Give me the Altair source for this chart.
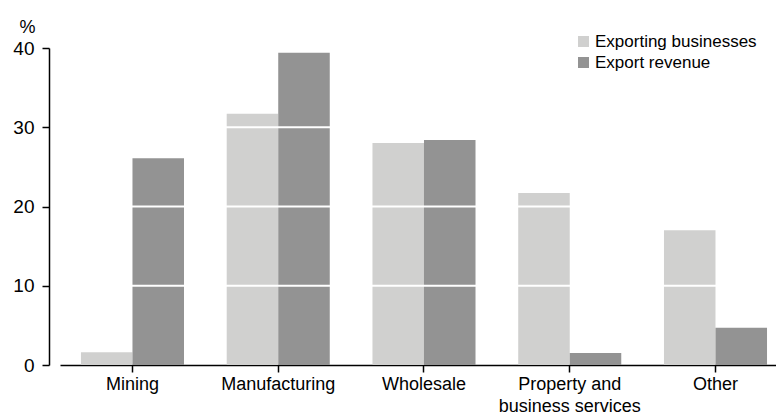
import altair as alt
import pandas as pd

categories = ["Mining", "Manufacturing", "Wholesale", "Property and business services", "Other"]
series = ["Exporting businesses", "Export revenue"]
exporting_businesses = [1.6, 31.7, 28.0, 21.7, 17.0]
export_revenue = [26.1, 39.4, 28.4, 1.5, 4.7]
y_ticks = [0, 10, 20, 30, 40]
grid_values = [10, 20, 30]
colors = ["#d0d0cf", "#939393"]

rows = []
for c, a, b in zip(categories, exporting_businesses, export_revenue):
    rows.append({"category": c, "series": series[0], "value": a})
    rows.append({"category": c, "series": series[1], "value": b})
df = pd.DataFrame(rows)
grid_df = pd.DataFrame({"y": grid_values})

FONT = "Liberation Sans"

y_scale = alt.Scale(domain=[0, 40], nice=False)

bars = alt.Chart(df).mark_bar().encode(
    x=alt.X(
        "category:N",
        sort=categories,
        scale=alt.Scale(paddingInner=0.293, paddingOuter=0.1027, align=0.7),
        axis=alt.Axis(
            title=None,
            labelAngle=0,
            labelExpr="datum.label == 'Property and business services' ? ['Property and', 'business services'] : datum.label",
            labelFontSize=18,
            labelFont=FONT,
            labelColor="#000000",
            labelLineHeight=22,
            labelPadding=3,
            labelLimit=400,
            tickSize=7,
            tickColor="#000000",
            tickWidth=1.5,
            domainColor="#000000",
            domainWidth=1.5,
            grid=False,
        ),
    ),
    xOffset=alt.XOffset("series:N", sort=series, scale=alt.Scale(paddingInner=0, paddingOuter=0)),
    y=alt.Y(
        "value:Q",
        scale=y_scale,
        axis=alt.Axis(
            values=y_ticks,
            offset=11,
            tickSize=7,
            tickColor="#000000",
            tickWidth=1.5,
            domainColor="#000000",
            domainWidth=1.5,
            grid=False,
            labelFontSize=19,
            labelFont=FONT,
            labelColor="#000000",
            labelPadding=8,
            title="%",
            titleAngle=0,
            titleFont=FONT,
            titleFontSize=18,
            titleFontWeight="normal",
            titleColor="#000000",
            titleAlign="center",
            titleBaseline="alphabetic",
            titleX=-22,
            titleY=-16,
        ),
    ),
    color=alt.Color(
        "series:N",
        sort=series,
        scale=alt.Scale(domain=series, range=colors),
        legend=alt.Legend(
            title=None,
            orient="none",
            legendX=515,
            legendY=-15,
            symbolType="square",
            symbolSize=121,
            symbolStrokeWidth=0,
            symbolOpacity=1,
            labelFontSize=17,
            labelFont=FONT,
            labelColor="#000000",
            labelOffset=3,
            labelLimit=400,
            rowPadding=3,
            padding=0,
        ),
    ),
)

grid = alt.Chart(grid_df).mark_rule(color="white", strokeWidth=2).encode(
    y=alt.Y("y:Q", scale=y_scale)
)

chart = (
    alt.layer(bars, grid)
    .properties(
        width=716,
        height=317,
        autosize=alt.AutoSizeParams(type="none"),
        padding={"left": 60, "top": 48, "right": 0, "bottom": 51},
    )
    .configure(background="white")
    .configure_view(stroke=None)
)

chart.save("out.html", embed_options={"renderer": "svg", "actions": False})
